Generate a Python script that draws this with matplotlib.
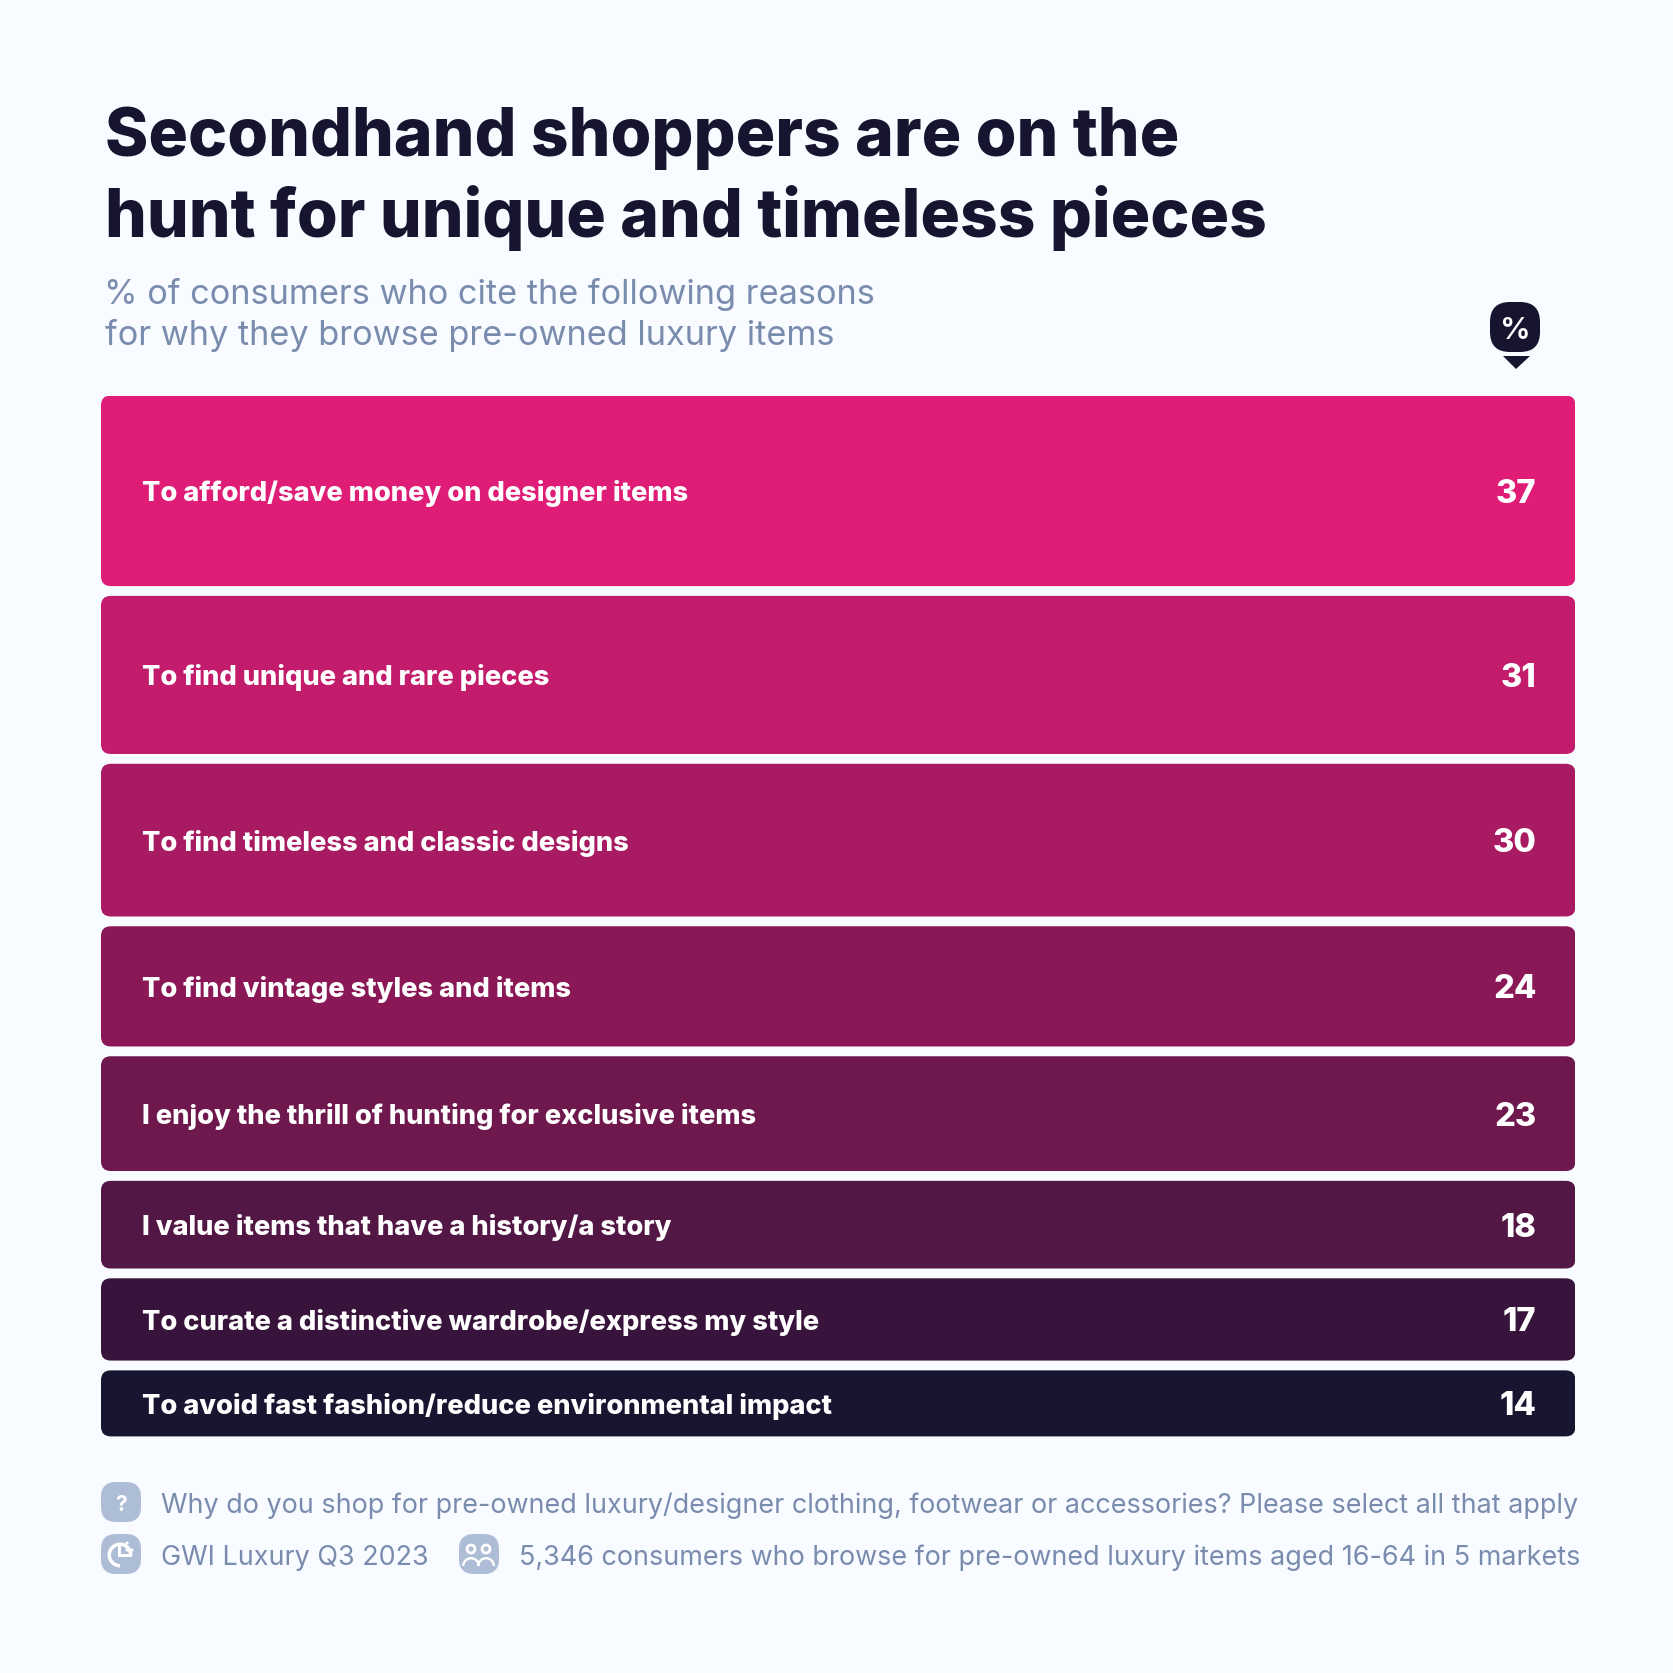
import matplotlib
matplotlib.use("Agg")
import matplotlib.pyplot as plt
import numpy as np
from matplotlib.patches import FancyBboxPatch, Circle, Polygon, Wedge, Rectangle

labels = ["To afford/save money on designer items",
          "To find unique and rare pieces",
          "To find timeless and classic designs",
          "To find vintage styles and items",
          "I enjoy the thrill of hunting for exclusive items",
          "I value items that have a history/a story",
          "To curate a distinctive wardrobe/express my style",
          "To avoid fast fashion/reduce environmental impact"]
values = [37, 31, 30, 24, 23, 18, 17, 14]
colors = ["#DF1D77", "#C41C6C", "#A81A62", "#8A1756",
          "#6E184E", "#521744", "#38143C", "#181530"]

BG = "#F8FBFF"
DARK = "#17142F"
GREY = "#7A8CAE"
ICON = "#AEBDD6"
FONT = "Inter"

fig = plt.figure(figsize=(16.74, 16.74), dpi=100, facecolor=BG)

# overlay in pixel coordinates for the text and the icons
bg = fig.add_axes([0, 0, 1, 1])
bg.set_xlim(0, 1674)
bg.set_ylim(1674, 0)
bg.axis("off")

# bars: each slot is as tall as its value, the gap comes off the slot
px_unit = 5.416
gap = 9.8 / px_unit
left, right, top = 101, 1575.5, 396.5
ax = fig.add_axes([left / 1674, 1 - (top + sum(values) * px_unit) / 1674,
                   (right - left) / 1674, sum(values) * px_unit / 1674])
ax.set_xlim(0, (right - left) / px_unit)
ax.set_ylim(sum(values), 0)
ax.axis("off")

starts = np.cumsum([0] + values[:-1])
w = (right - left) / px_unit
for lab, val, col, y0 in zip(labels, values, colors, starts):
    ax.add_patch(FancyBboxPatch((0, y0), w, val - gap,
                                boxstyle="round,pad=0,rounding_size=1.8",
                                fc=col, ec="none"))
    mid = y0 + (val - gap) / 2
    ax.text(41 / px_unit, mid - 1 / px_unit, lab, color="white", fontsize=19.6, family=FONT,
            weight="heavy", va="center_baseline", ha="left")
    ax.text(w - 39 / px_unit, mid - 1 / px_unit, str(val), color="white", fontsize=23.5, family=FONT,
            weight="heavy", va="center_baseline", ha="right")

# title and subtitle
bg.text(105, 155.5, "Secondhand shoppers are on the", color=DARK, fontsize=47.4,
        family=FONT, weight="heavy", va="baseline")
bg.text(105, 236.5, "hunt for unique and timeless pieces", color=DARK, fontsize=47.4,
        family=FONT, weight="heavy", va="baseline")
bg.text(104, 304, "% of consumers who cite the following reasons", color=GREY, fontsize=24.7,
        family=FONT, va="baseline")
bg.text(105, 344.5, "for why they browse pre-owned luxury items", color=GREY, fontsize=24.7,
        family=FONT, va="baseline")

# % marker above the value column
bg.add_patch(FancyBboxPatch((1490, 303), 50, 50, boxstyle="round,pad=0,rounding_size=20",
                            fc=DARK, ec="none"))
bg.add_patch(Polygon([[1503, 357], [1530, 357], [1516, 370]], fc=DARK, ec="none"))
bg.text(1515, 328, "%", color="white", fontsize=22, family=FONT, weight="semibold",
        ha="center", va="center_baseline")


def icon(x, y):
    bg.add_patch(FancyBboxPatch((x, y - 20), 40, 40, boxstyle="round,pad=0,rounding_size=15",
                                fc=ICON, ec="none"))


# footer
icon(101, 1503)
bg.text(121, 1503, "?", color="white", fontsize=15, family=FONT, weight="bold",
        ha="center", va="center_baseline")
bg.text(161, 1513, "Why do you shop for pre-owned luxury/designer clothing, footwear or accessories? Please select all that apply",
        color=GREY, fontsize=19.4, family=FONT, va="baseline")

icon(101, 1555)
bg.add_patch(Wedge((120, 1556), 12.5, 90, 360, width=3.5, fc="white", ec="none"))
bg.add_patch(Rectangle((118, 1544), 3, 14, fc="white", ec="none"))
bg.add_patch(Rectangle((118, 1555), 14, 3, fc="white", ec="none"))
for cx, cy in [(127, 1544), (127, 1551), (132, 1551)]:
    bg.add_patch(Circle((cx, cy), 1.6, fc="white", ec="none"))
bg.text(161, 1565, "GWI Luxury Q3 2023", color=GREY, fontsize=19.4, family=FONT, va="baseline")

icon(459, 1555)
for cx in (471, 486):
    bg.add_patch(Circle((cx, 1550), 4, fc="none", ec="white", lw=2))
    bg.add_patch(Wedge((cx, 1567), 9, 180, 360, width=2.4, fc="white", ec="none"))
bg.text(519, 1565, "5,346 consumers who browse for pre-owned luxury items aged 16-64 in 5 markets",
        color=GREY, fontsize=19.4, family=FONT, va="baseline")

fig.savefig("out.png", dpi=100, facecolor=BG)
